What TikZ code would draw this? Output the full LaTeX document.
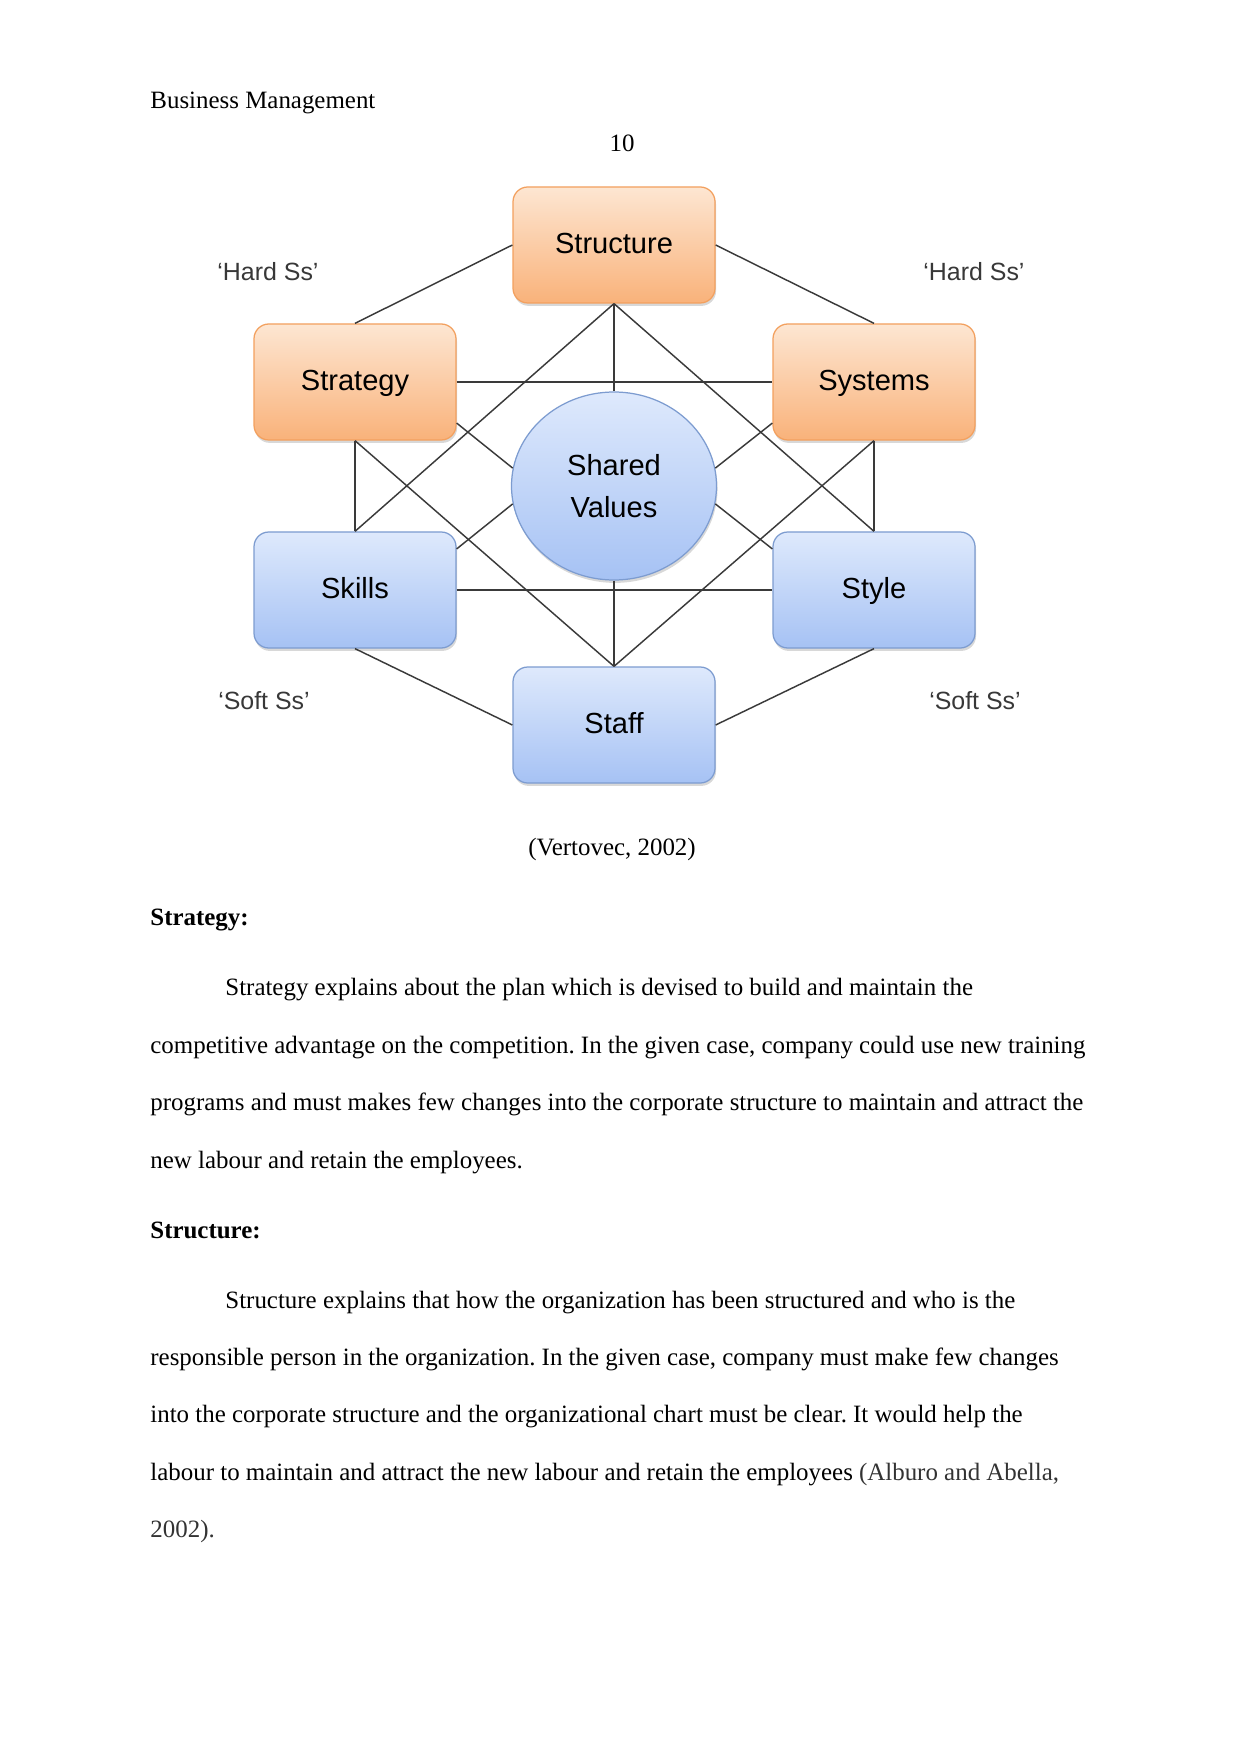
\documentclass[tikz,border=0pt]{standalone}
\usepackage{fontspec}
\setmainfont{Liberation Serif}
\newfontfamily\diagramfont{Liberation Sans}
\frenchspacing
\definecolor{HardTop}{HTML}{FDE6D2}
\definecolor{HardBottom}{HTML}{F9B27A}
\definecolor{HardBorder}{HTML}{F3A05E}
\definecolor{SoftTop}{HTML}{DEE9FC}
\definecolor{SoftBottom}{HTML}{A6C2F4}
\definecolor{SoftBorder}{HTML}{7D9CD0}
\definecolor{LinkGray}{HTML}{3A3A3A}
\definecolor{LabelGray}{HTML}{383838}
\definecolor{CiteGray}{HTML}{333333}
\usetikzlibrary{shapes.geometric, shadows, backgrounds}
\tikzset{
    % Boxes of the model
    s box/.style={
        rectangle,
        rounded corners=0.25cm,
        minimum width=3.418cm,
        minimum height=1.963cm,
        line width=0.6pt,
        align=center,
        text height=10pt,
        text depth=2pt,
        font=\diagramfont\fontsize{14}{17}\selectfont,
        drop shadow={shadow xshift=0.5pt, shadow yshift=-1.4pt, opacity=0.3}
    },
    hard s/.style={
        s box,
        draw=HardBorder,
        top color=HardTop,
        bottom color=HardBottom
    },
    soft s/.style={
        s box,
        draw=SoftBorder,
        top color=SoftTop,
        bottom color=SoftBottom
    },
    shared/.style={
        ellipse,
        draw=SoftBorder,
        line width=0.6pt,
        top color=SoftTop,
        bottom color=SoftBottom,
        minimum width=3.469cm,
        minimum height=3.181cm,
        align=center,
        font=\diagramfont\fontsize{14}{20.5}\selectfont,
        drop shadow={shadow xshift=0.5pt, shadow yshift=-1.4pt, opacity=0.3}
    },
    side label/.style={
        anchor=base,
        inner sep=0pt,
        text=LabelGray,
        font=\diagramfont\fontsize{12}{14}\selectfont
    },
    body text/.style={
        anchor=base west,
        inner sep=0pt,
        font=\fontsize{12}{14}\selectfont
    },
    link/.style={
        draw=LinkGray,
        line width=0.7pt
    }
}
\begin{document}
\begin{tikzpicture}[x=0.016922cm, y=-0.016922cm]
    \useasboundingbox[fill=white] (0,0) rectangle (1241,1754);

    % Page header
    \node[body text] (header) at (150, 109) {Business Management};
    \node[body text, anchor=base] (pagenum) at (622, 152) {10};

    % Hard Ss
    \node[hard s] (structure) at (614, 245) {Structure};
    \node[hard s] (strategy) at (355, 382) {Strategy};
    \node[hard s] (systems) at (874, 382) {Systems};

    % Centre
    \node[shared] (values) at (614, 486) {Shared\\Values};

    % Soft Ss
    \node[soft s] (skills) at (355, 590) {Skills};
    \node[soft s] (style) at (874, 590) {Style};
    \node[soft s] (staff) at (614, 725) {Staff};

    % Side labels
    \node[side label] (hardleft) at (268, 281) {‘Hard Ss’};
    \node[side label] (hardright) at (974, 281) {‘Hard Ss’};
    \node[side label] (softleft) at (264, 709) {‘Soft Ss’};
    \node[side label] (softright) at (975, 709) {‘Soft Ss’};

    % Outer ring
    \draw[link] (structure.west) -- (strategy.north);
    \draw[link] (structure.east) -- (systems.north);
    \draw[link] (strategy.south) -- (skills.north);
    \draw[link] (systems.south) -- (style.north);
    \draw[link] (skills.south) -- (staff.west);
    \draw[link] (style.south) -- (staff.east);

    % Cross links
    \draw[link] (strategy.east) -- (systems.west);
    \draw[link] (skills.east) -- (style.west);
    \draw[link] (structure.south) -- (skills.north);
    \draw[link] (structure.south) -- (style.north);
    \draw[link] (strategy.south) -- (staff.north);
    \draw[link] (systems.south) -- (staff.north);

    % Links to shared values
    \draw[link] (structure.south) -- (values.north);
    \draw[link] (values.south) -- (staff.north);
    \draw[link] (strategy.-22) -- (values.170);
    \draw[link] (systems.202) -- (values.10);
    \draw[link] (skills.22) -- (values.190);
    \draw[link] (style.158) -- (values.-10);

    % Caption and text
    \node[body text, anchor=base] (caption) at (612, 855) {(Vertovec, 2002)};
    \node[body text] (strategyhead) at (150, 925) {\bfseries Strategy:};
    \node[body text] (strategyone) at (225, 995) {Strategy explains about the plan which is devised to build and maintain the};
    \node[body text] (strategytwo) at (150, 1053) {competitive advantage on the competition. In the given case, company could use new training};
    \node[body text] (strategythree) at (150, 1110) {programs and must makes few changes into the corporate structure to maintain and attract the};
    \node[body text] (strategyfour) at (150, 1168) {new labour and retain the employees.};
    \node[body text] (structurehead) at (150, 1238) {\bfseries Structure:};
    \node[body text] (structureone) at (225, 1308) {Structure explains that how the organization has been structured and who is the};
    \node[body text] (structuretwo) at (150, 1365) {responsible person in the organization. In the given case, company must make few changes};
    \node[body text] (structurethree) at (150, 1422) {into the corporate structure and the organizational chart must be clear. It would help the};
    \node[body text] (structurefour) at (150, 1480) {labour to maintain and attract the new labour and retain the employees \textcolor{CiteGray}{(Alburo and Abella,}};
    \node[body text, text=CiteGray] (structurefive) at (150, 1537) {2002).};
\end{tikzpicture}
\end{document}
